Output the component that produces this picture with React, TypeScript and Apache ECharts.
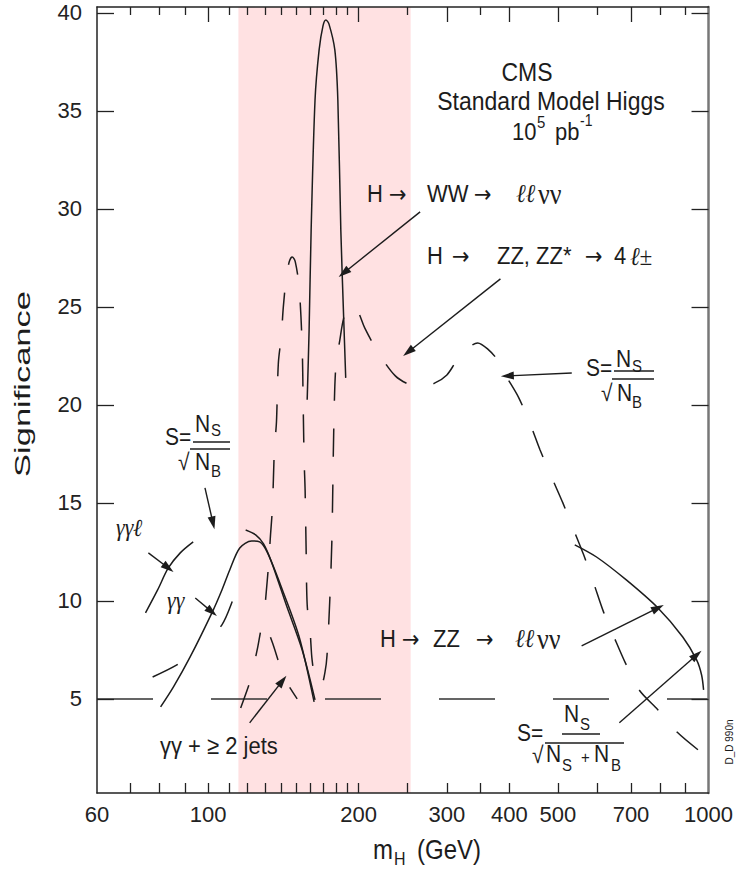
import React, { useEffect, useRef } from 'react';
import * as echarts from 'echarts';

// ---------- axis ticks ----------
const xTickLabels = [60, 100, 200, 300, 400, 500, 700, 1000];
const xBottomTicks = [70, 80, 90, 100, 110, 120, 130, 140, 150, 160, 170, 180, 190, 200, 250, 300, 350, 400, 500, 600, 700, 800, 900];
const xTopMajor = [100, 200, 300, 400, 500, 700];
const xTopMinor = [70, 80, 90, 110, 120, 130, 140, 150, 160, 170, 180, 190, 250, 350, 600, 800, 900];
const yTickLabels = [5, 10, 15, 20, 25, 30, 35, 40];

// ---------- shaded mass band (GeV) ----------
const bandRange = [115, 254];

// ---------- curves (mH in GeV, significance) ----------
const discoveryMass = [60, 1000];
const discoverySig = [5, 5];

const wwMass = [157.8, 159.2, 160.7, 163.6, 166.7, 169.7, 172.0, 174.4, 179.2, 181.7, 184.2, 186.7, 188.4];
const wwSig = [20.26, 23.83, 28.93, 35.56, 38.11, 39.34, 39.64, 39.44, 38.11, 35.56, 28.93, 24.34, 21.38];

const zz4lMass = [130.3, 132.1, 133.3, 134.5, 135.7, 137.0, 138.2, 140.1, 141.4, 143.3, 145.3, 147.3, 149.4, 152.1, 154.2, 154.9, 155.6, 156.3, 157.0, 157.8, 160.0, 161.4, 164.4, 168.2, 171.3, 172.9, 175.2, 176.8, 177.6, 178.4, 180.0, 183.4, 186.7, 191.0, 195.4, 200.0, 205.6, 219.1, 236.7, 253.5, 267.7, 284.1, 300.1, 312.6, 325.8, 345.7, 361.8, 378.7, 392.8, 416.8, 440.2, 460.7, 486.5, 511.6, 537.9, 563.0, 589.3, 616.8, 648.6, 682.0, 726.8, 792.5, 868.3, 964.3];
const zz4lSig = [10.05, 11.84, 13.37, 14.80, 17.70, 19.13, 22.14, 23.52, 25.00, 26.48, 27.30, 27.55, 27.30, 25.97, 22.96, 20.10, 17.19, 15.66, 12.76, 9.80, 8.37, 6.99, 5.82, 5.71, 6.38, 7.24, 10.20, 13.11, 16.02, 18.98, 21.94, 23.32, 24.44, 25.00, 25.05, 24.69, 23.93, 22.65, 21.48, 21.02, 20.92, 21.12, 21.53, 22.19, 22.76, 23.16, 22.86, 22.30, 21.53, 20.41, 19.03, 17.70, 16.28, 15.00, 13.62, 12.35, 10.92, 9.44, 8.11, 6.84, 5.46, 4.44, 3.27, 2.30];

const ggLepMass = [75.0, 79.3, 83.3, 88.0, 93.4];
const ggLepSig = [9.39, 10.56, 11.68, 12.45, 13.01];

const ggMass = [80.4, 85.3, 92.1, 101.8, 106.6, 110.5, 115.7, 122.2, 126.8, 131.5, 140.8, 152.1, 162.9];
const ggSig = [4.59, 5.61, 7.14, 9.39, 10.56, 11.58, 12.70, 13.06, 13.01, 12.45, 10.56, 8.16, 4.85];

const ggAltMass = [118.9, 124.5, 129.1, 133.9, 143.3, 154.2, 163.6];
const ggAltSig = [13.62, 13.37, 12.91, 11.99, 9.80, 7.50, 4.95];

const ggDashMass = [77.5, 88.0, 98.6, 106.6, 112.1, 116.8];
const ggDashSig = [6.12, 6.84, 7.91, 8.78, 10.05, 11.33];

const ggJetsMass = [116.2, 121.6, 125.6, 129.1, 134.5, 142.0, 150.7];
const ggJetsSig = [4.54, 5.97, 7.60, 8.98, 7.86, 6.07, 5.00];

const llvvMass = [540.4, 597.3, 685.0, 792.5, 888.2, 946.7, 968.6, 977.5];
const llvvSig = [12.86, 12.24, 11.07, 9.64, 8.16, 6.99, 6.22, 5.46];

// annotation arrows: [mass, significance] tail -> head
const arrowTail = [[265.3, 29.85], [383.9, 26.43], [533.0, 21.63], [76.0, 12.45], [94.3, 10.15], [98.6, 15.77], [121.1, 3.78], [557.8, 7.70], [663.5, 3.78]];
const arrowHead = [[186.7, 26.73], [251.2, 22.70], [396.3, 21.48], [83.3, 11.68], [101.8, 9.44], [102.3, 13.98], [140.8, 5.92], [792.5, 9.64], [946.7, 7.24]];

const FONT = '"Liberation Sans", Arial, Helvetica, sans-serif';
const SERIF = '"Liberation Serif", "DejaVu Serif", serif';
const ARROWFONT = '"DejaVu Sans", sans-serif';
const INK = '#1c1c1c';
const AXIS = '#222';
const SY = 1.12;

const zip = (xs: number[], ys: number[]) => xs.map((x, i) => [x, ys[i]]);

function txt(text: string, x: number, y: number, size = 22, extra: any = {}, el: any = {}) {
  return {
    type: 'text', x, y, z: 100, silent: true, scaleY: SY, ...el,
    style: { text, fontSize: size, fontFamily: FONT, fill: INK, textAlign: 'left', textVerticalAlign: 'middle', ...extra },
  };
}
const arr = (x: number, y: number, size = 21) => txt('\u2192', x, y, size, { fontFamily: ARROWFONT });
const ell = (s: string, x: number, y: number, size = 23) => txt(s, x, y, size, { fontFamily: SERIF, fontStyle: 'italic' });
const nu = (x: number, y: number, size = 26) => txt('\u03bd\u03bd', x, y, size, { fontFamily: SERIF });

function seg(x1: number, y1: number, x2: number, y2: number, w = 1.3) {
  return { type: 'line', z: 100, silent: true, shape: { x1, y1, x2, y2 }, style: { stroke: INK, lineWidth: w } };
}

function curve(name: string, xs: number[], ys: number[], dash: any = 'solid', smooth: number = 0.3) {
  return {
    name, type: 'line', xAxisIndex: 0, yAxisIndex: 0, z: 3, silent: true,
    symbol: 'none', smooth, data: zip(xs, ys),
    lineStyle: { color: INK, width: 1.5, type: dash },
  };
}

function buildOption() {
  const graphics: any[] = [
    // header
    txt('CMS', 527, 72, 23, { textAlign: 'center' }),
    txt('Standard Model Higgs', 551, 101, 23, { textAlign: 'center' }),
    txt('10', 512, 132, 22),
    txt('5', 537, 122, 15),
    txt('pb', 555, 132, 22),
    txt('-1', 580, 121, 14),
    // H -> WW -> llvv
    txt('H', 367, 194),
    arr(389, 194),
    txt('WW', 427, 194),
    arr(474, 194),
    ell('\u2113\u2113', 516, 193),
    nu(538, 194),
    // H -> ZZ, ZZ* -> 4l+-
    txt('H', 427, 256),
    arr(452, 256),
    txt('ZZ, ZZ*', 497, 256),
    arr(585, 256),
    txt('4', 614, 256),
    ell('\u2113\u00b1', 630, 256),
    // right S = NS / sqrt(NB)
    txt('S=', 586, 368, 21),
    txt('N', 616, 359, 21),
    txt('S', 632, 366, 15),
    seg(614, 371, 654, 371),
    txt('\u221a', 601, 393, 21),
    seg(612, 379, 654, 379),
    txt('N', 617, 393, 21),
    txt('B', 632, 402, 15),
    // left S = NS / sqrt(NB)
    txt('S=', 165, 437, 21),
    txt('N', 195, 424, 21),
    txt('S', 211, 430, 15),
    seg(193, 442, 230, 442),
    txt('\u221a', 178, 462, 21),
    seg(190, 449, 230, 449),
    txt('N', 195, 462, 21),
    txt('B', 211, 471, 15),
    // gamma labels
    ell('\u03b3\u03b3\u2113', 116, 528, 22),
    ell('\u03b3\u03b3', 167, 601, 22),
    // H -> ZZ -> llvv
    txt('H', 380, 639),
    arr(402, 639),
    txt('ZZ', 433, 639),
    arr(476, 639),
    ell('\u2113\u2113', 515, 638),
    nu(537, 639),
    // gamma gamma + >= 2 jets
    txt('\u03b3\u03b3 + \u2265 2 jets', 160, 746, 22),
    // bottom S = NS / sqrt(NS + NB)
    txt('S=', 517, 733, 21),
    txt('N', 564, 714, 21),
    txt('S', 580, 724, 15),
    seg(562, 734, 600, 734),
    txt('\u221a', 532, 755, 21),
    seg(545, 743, 624, 743),
    txt('N', 546, 754, 21),
    txt('S', 562, 765, 15),
    txt('+', 581, 757, 15),
    txt('N', 594, 754, 21),
    txt('B', 611, 765, 15),
    // small tag
    txt('D_D 990n', 729, 742, 10, { textAlign: 'center' }, { rotation: Math.PI / 2, scaleY: 1 }),
    // axis titles
    txt('Significance', 22, 384, 23, { textAlign: 'center' }, { rotation: Math.PI / 2, scaleX: 1.5, scaleY: 1 }),
    txt('m', 373, 850, 24),
    txt('H', 394, 859, 16),
    txt('(GeV)', 417, 850, 24),
  ];

  const arrowLines = arrowTail.map((t, i) => [
    { coord: t, symbol: 'none' },
    { coord: arrowHead[i], symbol: 'triangle', symbolSize: [8, 13] },
  ]);

  const logAxisBase = {
    type: 'log', logBase: 10, min: 60, max: 1000, gridIndex: 0, z: 5,
    splitLine: { show: false }, minorTick: { show: false }, minorSplitLine: { show: false },
  };
  const valueAxisBase = {
    type: 'value', min: 0.2, max: 40.3, gridIndex: 0, z: 5,
    splitLine: { show: false }, minorTick: { show: false },
  };

  return {
    animation: false,
    backgroundColor: '#ffffff',
    textStyle: { fontFamily: FONT },
    grid: { left: 97, right: 25, top: 7, bottom: 79, containLabel: false },
    xAxis: [
      {
        ...logAxisBase, position: 'bottom',
        axisLine: { show: true, onZero: false, lineStyle: { color: AXIS, width: 1.5 } },
        axisTick: { show: true, inside: true, length: 10, customValues: xBottomTicks, lineStyle: { color: AXIS, width: 1.3 } },
        axisLabel: { show: true, customValues: xTickLabels, fontSize: 22, color: AXIS, margin: 10, fontFamily: FONT, formatter: (v: number) => String(Math.round(v)) },
      },
      {
        ...logAxisBase, position: 'top',
        axisLine: { show: true, onZero: false, lineStyle: { color: AXIS, width: 1.5 } },
        axisTick: { show: true, inside: true, length: 15, customValues: xTopMajor, lineStyle: { color: AXIS, width: 1.3 } },
        axisLabel: { show: false },
      },
      {
        ...logAxisBase, position: 'top',
        axisLine: { show: false, onZero: false },
        axisTick: { show: true, inside: true, length: 8, customValues: xTopMinor, lineStyle: { color: AXIS, width: 1.3 } },
        axisLabel: { show: false },
      },
    ],
    yAxis: [
      {
        ...valueAxisBase, position: 'left',
        axisLine: { show: true, onZero: false, lineStyle: { color: AXIS, width: 1.5 } },
        axisTick: { show: true, inside: true, length: 17, customValues: yTickLabels, lineStyle: { color: AXIS, width: 1.3 } },
        axisLabel: { show: true, customValues: yTickLabels, fontSize: 22, color: AXIS, margin: 15, fontFamily: FONT },
      },
      {
        ...valueAxisBase, position: 'right',
        axisLine: { show: true, onZero: false, lineStyle: { color: '#777', width: 2.5 } },
        axisTick: { show: true, inside: true, length: 17, customValues: yTickLabels, lineStyle: { color: AXIS, width: 1.3 } },
        axisLabel: { show: false },
      },
    ],
    series: [
      {
        name: 'band', type: 'line', xAxisIndex: 0, yAxisIndex: 0, z: 1, silent: true, symbol: 'none',
        data: zip(discoveryMass, discoverySig), lineStyle: { opacity: 0, width: 0 },
        markArea: { silent: true, itemStyle: { color: '#ffe1e2' }, data: [[{ xAxis: bandRange[0] }, { xAxis: bandRange[1] }]] },
      },
      {
        name: '5 sigma', type: 'line', xAxisIndex: 0, yAxisIndex: 0, z: 3, silent: true, symbol: 'none',
        data: zip(discoveryMass, discoverySig), lineStyle: { color: '#333', width: 1.5, type: [56, 58] },
        markLine: {
          silent: true, symbol: ['none', 'triangle'], symbolSize: 12, animation: false,
          label: { show: false }, lineStyle: { color: INK, width: 1.4, type: 'solid' },
          data: arrowLines,
        },
      },
      curve('H->WW->llvv', wwMass, wwSig, 'solid', 0.3),
      curve('H->ZZ(*)->4l', zz4lMass, zz4lSig, [28, 28], 0.3),
      curve('gg l', ggLepMass, ggLepSig, 'solid', 0.3),
      curve('gg', ggMass, ggSig, 'solid', 0.3),
      curve('gg alt', ggAltMass, ggAltSig, 'solid', 0.3),
      curve('gg dashed', ggDashMass, ggDashSig, [28, 57], 0.3),
      curve('gg + 2 jets', ggJetsMass, ggJetsSig, [24, 30], 0.2),
      curve('H->ZZ->llvv', llvvMass, llvvSig, 'solid', 0.3),
    ],
    graphic: { elements: graphics },
  };
}

export default function App() {
  const ref = useRef<HTMLDivElement>(null);
  useEffect(() => {
    if (!ref.current) return;
    const chart = echarts.init(ref.current, null, { renderer: 'svg' });
    chart.setOption(buildOption() as any);
    return () => chart.dispose();
  }, []);
  return (
    <div
      ref={ref}
      style={{ position: 'absolute', left: 0, top: 0, width: 736, height: 872, background: '#fff' }}
    />
  );
}
